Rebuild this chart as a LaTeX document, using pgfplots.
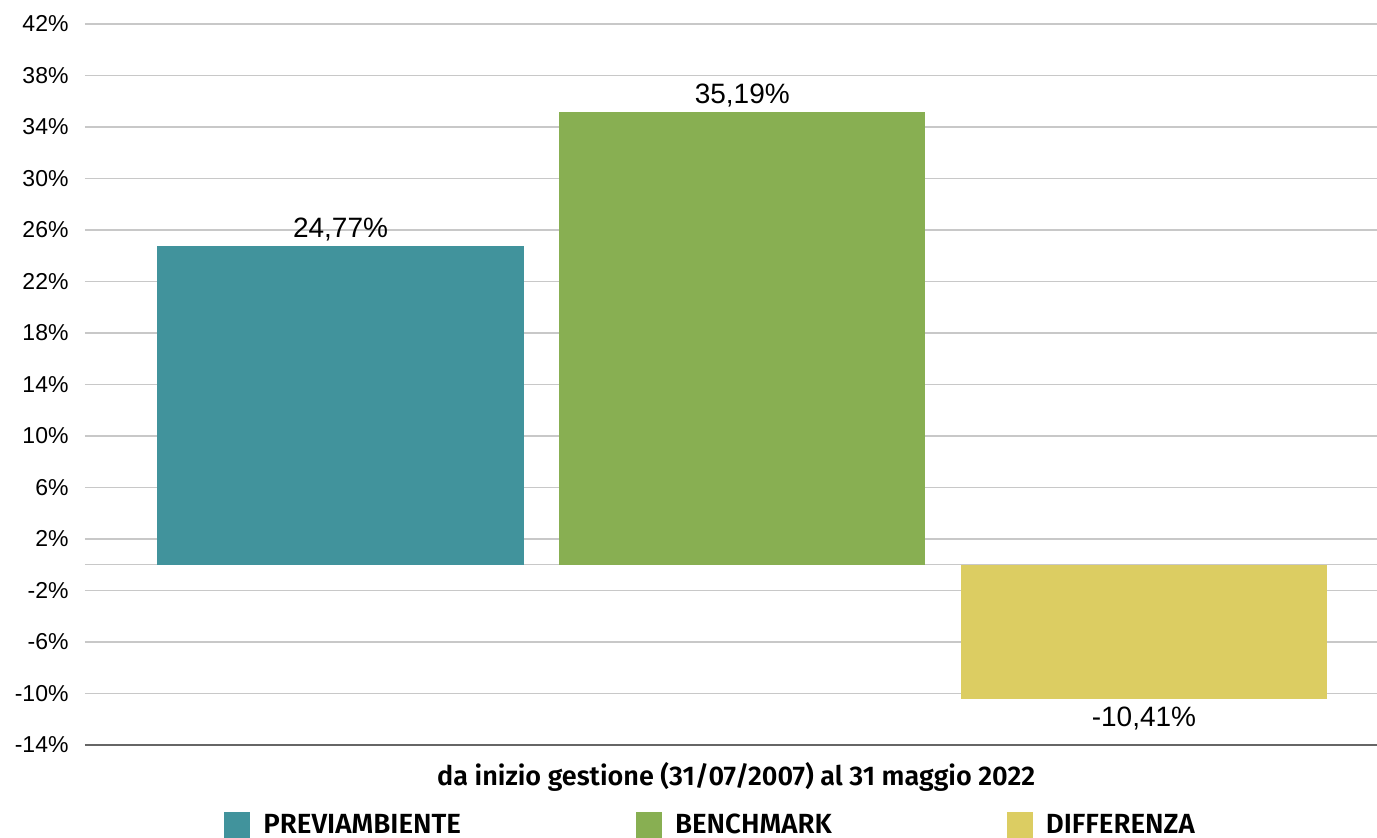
\documentclass[border=0pt]{standalone}
\usepackage{fontspec}
\setmainfont{Liberation Sans}
\newfontfamily\legfont{Fira Sans SemiBold}
\usepackage{pgfplots}
\pgfplotsset{compat=1.18}
\definecolor{cA}{HTML}{41939C}
\definecolor{cB}{HTML}{88AF52}
\definecolor{cC}{HTML}{DCCD62}
\definecolor{gridc}{HTML}{C8C8C8}
\begin{document}
\begin{tikzpicture}
\begin{axis}[
 width=646pt, height=360.5pt, scale only axis,
 xmin=-0.636, xmax=2.58, ymin=-14, ymax=42,
 ytick={-14,-10,...,42},
 yticklabels={-14\%,-10\%,-6\%,-2\%,2\%,6\%,10\%,14\%,18\%,22\%,26\%,30\%,34\%,38\%,42\%},
 extra y ticks={0}, extra y tick labels={},
 extra y tick style={grid=major},
 xtick=\empty,
 ymajorgrids, grid style={gridc, line width=0.75pt},
 axis x line=bottom, axis y line=left,
 x axis line style={-, draw=black!60, line width=1pt},
 y axis line style={draw=none},
 major tick length=0pt, tick style={draw=none},
 yticklabel style={font=\fontsize{11.5}{13}\selectfont, xshift=-4.7pt},
 ybar, bar shift=0pt, bar width=0.912,
 point meta=explicit symbolic,
 nodes near coords,
 nodes near coords style={font=\fontsize{14}{16}\selectfont, inner sep=2pt, text=black},
 xlabel={da inizio gestione (31/07/2007) al 31 maggio 2022},
 xlabel style={font=\legfont\fontsize{13.5}{15}\selectfont, at={(axis description cs:0.504,-0.0444)}, anchor=center},
 legend columns=3,
 legend style={at={(0.1076,-0.111)}, anchor=west, draw=none, inner sep=0pt,
   font=\legfont\fontsize{13.85}{15}\selectfont,
   /tikz/every odd column/.append style={column sep=4.5pt},
   /tikz/every even column/.append style={column sep=85.5pt}},
 legend cell align=left,
 legend image code/.code={\fill[#1] (0pt,-6.5pt) rectangle (13pt,6.5pt);},
]
\addplot[fill=cA, draw=none] coordinates {(0,24.77) [24,77\%]};
\addlegendentry{PREVIAMBIENTE}
\addplot[fill=cB, draw=none] coordinates {(1,35.19) [35,19\%]};
\addlegendentry{BENCHMARK}
\addplot[fill=cC, draw=none, every node near coord/.append style={anchor=north, inner sep=4pt}] coordinates {(2,-10.41) [-10,41\%]};
\addlegendentry{DIFFERENZA}
\end{axis}
\pgfresetboundingbox
\path (-42.5pt,-46.5pt) rectangle (646pt,372.5pt);
\end{tikzpicture}
\end{document}
